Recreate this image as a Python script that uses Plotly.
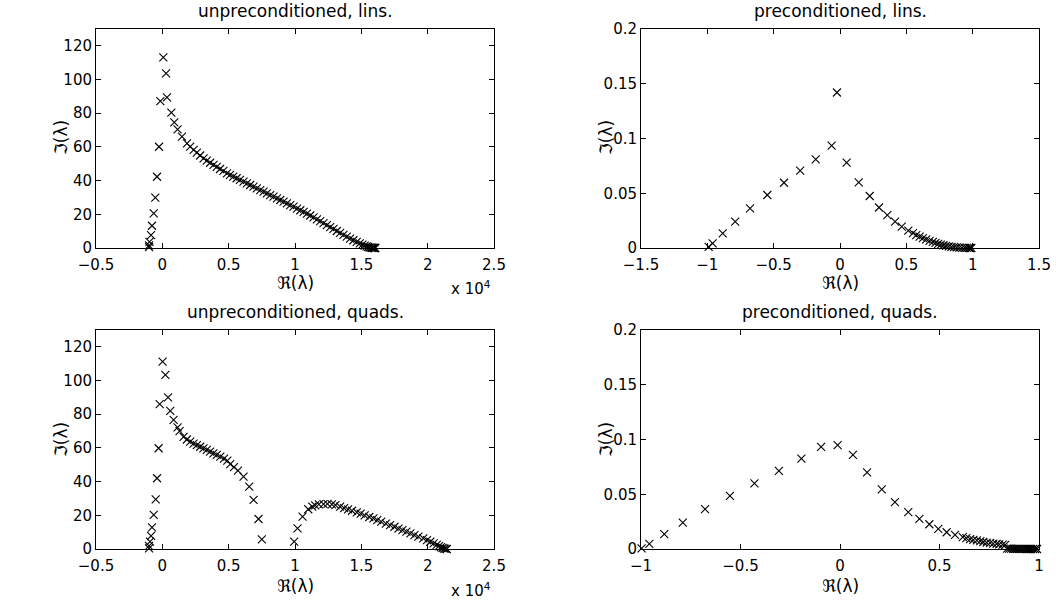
import plotly.graph_objects as go

# ---------------- data ----------------
# unpreconditioned, lins. (real part in raw units, imag part)
ul_re = [-1000, -1000, -970, -850, -780, -650, -530, -400, -250, -150, 75, 280, 350, 680, 900, 1150,
         1480, 1860, 2100, 2360, 2600, 2850, 3110, 3350, 3600, 3860, 4100, 4350, 4600, 4870, 5100,
         5350, 5600, 5850, 6120, 6370, 6620, 6870, 7120, 7380, 7630, 7880, 8130, 8380, 8640, 8890,
         9140, 9390, 9640, 9890, 10150, 10400, 10650, 10900, 11150, 11400, 11650, 11900, 12150, 12400,
         12650, 12900, 13150, 13400, 13650, 13900, 14150, 14400, 14650, 14880, 15080, 15250, 15400,
         15520, 15620, 15720, 15800, 15870, 15930, 15980, 16020, 16050]
ul_im = [0.5, 1.5, 3.7, 7.7, 13.2, 20.6, 29.9, 42.3, 60.1, 87.2, 113.2, 103.7, 89.4, 80.3, 74.6, 70.4,
         66.1, 62.1, 60.2, 58.2, 56.6, 54.9, 53.2, 51.9, 50.6, 49.3, 48.1, 46.9, 45.8, 44.3, 43.4,
         42.4, 41.4, 40.4, 39.4, 38.4, 37.4, 36.4, 35.4, 34.4, 33.4, 32.4, 31.4, 30.5, 29.5, 28.5,
         27.5, 26.5, 25.5, 24.5, 23.4, 22.4, 21.4, 20.4, 19.3, 18.2, 17.0, 15.9, 14.8, 13.6,
         12.4, 11.3, 10.1, 9.0, 7.8, 6.7, 5.6, 4.6, 3.6, 2.7, 2.0, 1.4, 0.9,
         0.6, 0.4, 0.25, 0.15, 0.08, 0.03, 0.01, 0.0, 0.0]

# preconditioned, lins.
pl_re = [-0.99, -0.96, -0.884, -0.79, -0.678, -0.548, -0.422, -0.30, -0.183, -0.063, -0.023, 0.05,
         0.141, 0.224, 0.294, 0.357, 0.415, 0.465, 0.515, 0.55, 0.575, 0.60, 0.625, 0.65, 0.675, 0.70,
         0.72, 0.74, 0.76, 0.78, 0.80, 0.82, 0.84, 0.86, 0.88, 0.90, 0.92, 0.94, 0.955, 0.97, 0.98, 0.99]
pl_im = [0.001, 0.0043, 0.0134, 0.024, 0.0362, 0.0484, 0.0596, 0.0706, 0.081, 0.0934, 0.142, 0.078,
         0.060, 0.0475, 0.037, 0.030, 0.024, 0.0195, 0.0158, 0.0135, 0.0117, 0.0103, 0.0090, 0.0078,
         0.0066, 0.0055, 0.0046, 0.0038, 0.0031, 0.0025, 0.0019, 0.0014, 0.0010, 0.0007, 0.0005,
         0.0003, 0.0002, 0.0001, 0.00005, 0.00002, 0.0, 0.0]

# unpreconditioned, quads.
uq_re = [-1000, -1000, -930, -850, -780, -650, -500, -400, -280, -200, 20, 230, 430, 600, 850, 1150, 1300,
         1600, 1850, 2100, 2350, 2600, 2850, 3100, 3350, 3600, 3850, 4100, 4370, 4650, 4900, 5120, 5400,
         5700, 6120, 6550, 6880, 7250, 7500,
         9940, 10190, 10570, 11000, 11300, 11520, 11800, 12150, 12450, 12780, 13050, 13400, 13700, 14000,
         14300, 14660, 14950, 15250, 15600, 15910, 16200, 16500, 16850, 17170, 17500, 17800, 18100,
         18400, 18700, 19000, 19300, 19670, 19950, 20200, 20450, 20680, 20850, 21000, 21120, 21250,
         21350, 21440]
uq_im = [0.4, 1.8, 4.4, 7.8, 12.9, 20.2, 29.5, 42.0, 59.8, 86.0, 111.2, 103.3, 90.0, 82.0, 76.6, 72.2, 70.0,
         66.6, 65.0, 63.7, 62.6, 61.6, 60.7, 59.7, 58.8, 57.8, 56.8, 55.9, 54.8, 53.6, 52.4, 50.4, 48.6,
         46.5, 42.9, 37.0, 29.1, 17.8, 5.7,
         4.4, 12.3, 19.2, 23.6, 25.2, 25.9, 26.5, 26.7, 26.8, 26.5, 26.0, 25.1, 24.3, 23.5,
         22.7, 21.8, 21.0, 20.0, 19.0, 18.2, 17.2, 16.2, 15.0, 14.2, 13.2, 12.1, 11.2,
         10.3, 9.3, 8.3, 7.3, 6.3, 5.3, 4.3, 3.3, 2.4, 1.7, 1.1, 0.6, 0.3,
         0.1, 0.0]

# preconditioned, quads.
pq_re = [-0.997, -0.958, -0.883, -0.79, -0.678, -0.553, -0.43, -0.307, -0.194, -0.095, -0.012, 0.065,
         0.136, 0.21, 0.276, 0.343, 0.399, 0.449, 0.494, 0.536, 0.578, 0.617, 0.635, 0.654, 0.67, 0.688,
         0.705, 0.72, 0.737, 0.754, 0.77, 0.787, 0.80, 0.817, 0.83,
         0.84, 0.85, 0.86, 0.87, 0.88, 0.89, 0.90, 0.91, 0.92, 0.93, 0.94, 0.95, 0.96, 0.97, 0.98, 0.99]
pq_im = [0.0006, 0.0046, 0.0135, 0.024, 0.0364, 0.0486, 0.060, 0.0713, 0.0826, 0.0933, 0.0948, 0.086,
         0.070, 0.0544, 0.0428, 0.0336, 0.0275, 0.0226, 0.0183, 0.0153, 0.0128, 0.0108, 0.0099, 0.009,
         0.0084, 0.0078, 0.0071, 0.0064, 0.0059, 0.0055, 0.0050, 0.0046, 0.0043, 0.0040, 0.0037,
         0.0004, 0.0003, 0.0003, 0.0002, 0.0002, 0.0002, 0.0001, 0.0001, 0.0001, 0.0001, 0.0, 0.0,
         0.0, 0.0, 0.0, 0.0]

titles = ["unpreconditioned, lins.", "preconditioned, lins.",
          "unpreconditioned, quads.", "preconditioned, quads."]

un_xtickvals = [-5000, 0, 5000, 10000, 15000, 20000, 25000]
un_xticktext = ["\u22120.5", "0", "0.5", "1", "1.5", "2", "2.5"]
un_ytickvals = [0, 20, 40, 60, 80, 100, 120]
pre_ytickvals = [0, 0.05, 0.1, 0.15, 0.2]
pl_xtickvals = [-1.5, -1, -0.5, 0, 0.5, 1, 1.5]
pq_xtickvals = [-1, -0.5, 0, 0.5, 1]

# ---------------- figure ----------------
W, H = 1056, 603
FONT = "DejaVu Sans"
TICKFONT = dict(family=FONT, size=15, color="black")
LABELSIZE = 17


def px_x(p):
    return p / W


def px_y(p):
    return 1 - p / H


left_dom = [px_x(96), px_x(494)]
right_dom = [px_x(641), px_x(1039)]
top_dom = [px_y(248), px_y(29)]
bot_dom = [px_y(549), px_y(330)]

fig = go.Figure()
marker = dict(symbol="x-thin", size=8, color="black", line=dict(width=1.1, color="black"))

series = [(ul_re, ul_im, "x", "y"), (pl_re, pl_im, "x2", "y2"),
          (uq_re, uq_im, "x3", "y3"), (pq_re, pq_im, "x4", "y4")]
for re, im, xa, ya in series:
    fig.add_trace(go.Scatter(x=re, y=im, mode="markers", marker=marker,
                             xaxis=xa, yaxis=ya, showlegend=False, cliponaxis=False))

axbase = dict(showline=True, linecolor="black", linewidth=1, mirror="allticks",
              ticks="inside", ticklen=5, tickcolor="black", tickwidth=1,
              showgrid=False, zeroline=False, tickfont=TICKFONT, automargin=False)
xbase = dict(axbase, ticklabelstandoff=3)

fig.update_layout(
    width=W, height=H, margin=dict(l=0, r=0, t=0, b=0, autoexpand=False),
    paper_bgcolor="white", plot_bgcolor="white",
    font=dict(family=FONT, size=15, color="black"),
    xaxis=dict(xbase, domain=left_dom, anchor="y", range=[-5000, 25000],
               tickvals=un_xtickvals, ticktext=un_xticktext),
    yaxis=dict(axbase, domain=top_dom, anchor="x", range=[0, 130], tickvals=un_ytickvals),
    xaxis2=dict(xbase, domain=right_dom, anchor="y2", range=[-1.5, 1.5], tickvals=pl_xtickvals),
    yaxis2=dict(axbase, domain=top_dom, anchor="x2", range=[0, 0.2], tickvals=pre_ytickvals),
    xaxis3=dict(xbase, domain=left_dom, anchor="y3", range=[-5000, 25000],
                tickvals=un_xtickvals, ticktext=un_xticktext),
    yaxis3=dict(axbase, domain=bot_dom, anchor="x3", range=[0, 130], tickvals=un_ytickvals),
    xaxis4=dict(xbase, domain=right_dom, anchor="y4", range=[-1, 1], tickvals=pq_xtickvals),
    yaxis4=dict(axbase, domain=bot_dom, anchor="x4", range=[0, 0.2], tickvals=pre_ytickvals),
)

ann = []
# titles
for t, cx, cy in [(titles[0], 295, 11), (titles[1], 840, 11),
                  (titles[2], 295, 312), (titles[3], 840, 312)]:
    ann.append(dict(text=t, x=px_x(cx), y=px_y(cy), xref="paper", yref="paper",
                    showarrow=False, font=dict(family=FONT, size=LABELSIZE),
                    xanchor="center", yanchor="middle"))
# x labels
for cx, cy in [(295, 283), (840, 283), (295, 586), (840, 586)]:
    ann.append(dict(text="\u211c(\u03bb)", x=px_x(cx), y=px_y(cy), xref="paper", yref="paper",
                    showarrow=False, font=dict(family=FONT, size=LABELSIZE),
                    xanchor="center", yanchor="middle"))
# y labels
for cx, cy in [(61, 138), (606, 138), (61, 440), (606, 440)]:
    ann.append(dict(text="\u2111(\u03bb)", x=px_x(cx), y=px_y(cy), xref="paper", yref="paper",
                    showarrow=False, textangle=-90, font=dict(family=FONT, size=LABELSIZE),
                    xanchor="center", yanchor="middle"))
# x 10^4 multipliers
for cx, cy in [(471, 288), (471, 590)]:
    ann.append(dict(text="x 10<sup>4</sup>", x=px_x(cx), y=px_y(cy), xref="paper", yref="paper",
                    showarrow=False, font=dict(family=FONT, size=15),
                    xanchor="center", yanchor="middle"))
fig.update_layout(annotations=ann)

fig.write_html("out.html")
